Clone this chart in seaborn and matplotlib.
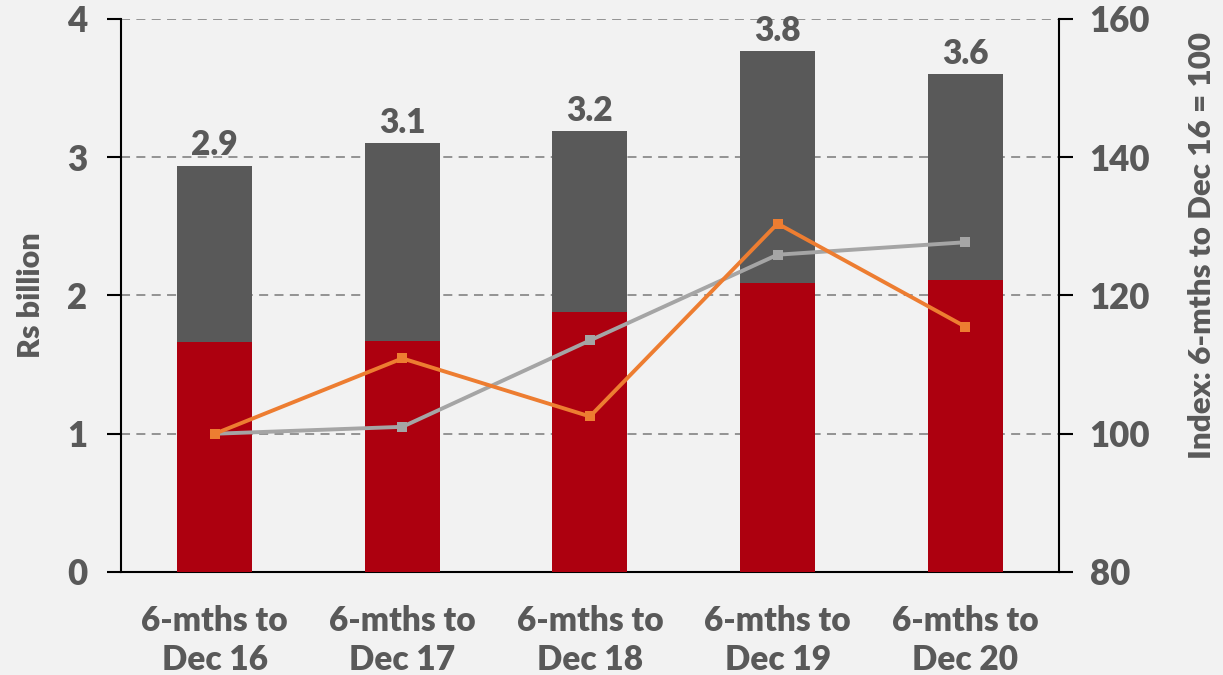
import numpy as np
import pandas as pd
import matplotlib
matplotlib.use("Agg")
import matplotlib.pyplot as plt
import seaborn as sns

# data
periods = ["6-mths to\nDec 16", "6-mths to\nDec 17", "6-mths to\nDec 18",
           "6-mths to\nDec 19", "6-mths to\nDec 20"]
total = [2.94, 3.10, 3.19, 3.77, 3.60]
red_part = [1.66, 1.67, 1.88, 2.09, 2.11]
total_labels = ["2.9", "3.1", "3.2", "3.8", "3.6"]
orange_idx = [100.0, 110.9, 102.5, 130.4, 115.5]
grey_idx = [100.0, 101.0, 113.5, 125.9, 127.7]

bg = "#f2f2f2"
txt = "#595959"

sns.set_theme(style="white")
plt.rcParams["font.family"] = ["Lato", "DejaVu Sans"]
plt.rcParams["font.weight"] = "bold"

fig = plt.figure(figsize=(12.23, 6.75), dpi=100, facecolor=bg)
ax = fig.add_axes([0.0989, 0.1526, 0.767, 0.8193])
ax.set_facecolor(bg)

df = pd.DataFrame({"period": periods, "total": total, "red": red_part})
sns.barplot(data=df, x="period", y="total", color="#595959", width=0.4,
            saturation=1, ax=ax, zorder=2, linewidth=0, edgecolor="none")
sns.barplot(data=df, x="period", y="red", color="#ad000f", width=0.4,
            saturation=1, ax=ax, zorder=3, linewidth=0, edgecolor="none")
ax.bar_label(ax.containers[0], labels=total_labels, padding=3,
             fontsize=24, fontweight="heavy", color=txt)

ax.set_xlim(-0.5, 4.5)
ax.set_ylim(0, 4)
ax.set_yticks([0, 1, 2, 3, 4])
ax.set_xlabel("")
ax.set_ylabel("Rs billion", fontsize=22, fontweight="heavy", color=txt, labelpad=16)
for y in [1, 2, 3, 4]:
    ax.axhline(y, color="#8c8c8c", lw=1.3, ls=(0, (5, 3.5)), zorder=1)

ax.tick_params(axis="x", length=0, pad=24, labelsize=24, labelcolor=txt)
ax.set_xticks(np.arange(-0.5, 5, 1), minor=True)
ax.tick_params(axis="x", which="minor", length=9, width=1.5, color="black", direction="out")
ax.tick_params(axis="y", length=10, width=1.5, color="black", direction="out",
               pad=14, labelsize=25, labelcolor=txt)
for lab in ax.get_xticklabels():
    lab.set_linespacing(1.25)
    lab.set_fontweight("heavy")
for lab in ax.get_yticklabels():
    lab.set_fontweight("heavy")

for s in ["top", "right"]:
    ax.spines[s].set_visible(False)
ax.spines["left"].set_color("black")
ax.spines["left"].set_linewidth(1.5)
ax.spines["bottom"].set_color("black")
ax.spines["bottom"].set_linewidth(1.5)

ax2 = ax.twinx()
xpos = np.arange(len(periods))
sns.lineplot(x=xpos, y=orange_idx, ax=ax2, color="#ed7d31", lw=2.8,
             marker="s", markersize=7, markeredgewidth=0, zorder=5)
sns.lineplot(x=xpos, y=grey_idx, ax=ax2, color="#a5a5a5", lw=2.8,
             marker="s", markersize=7, markeredgewidth=0, zorder=4)
ax2.set_ylim(80, 160)
ax2.set_yticks([80, 100, 120, 140, 160])
ax2.tick_params(axis="y", length=10, width=1.5, color="black", direction="out",
                pad=12, labelsize=25, labelcolor=txt)
for lab in ax2.get_yticklabels():
    lab.set_fontweight("heavy")
ax2.set_ylabel("Index: 6-mths to Dec 16 = 100", fontsize=22.5, fontweight="heavy",
               color=txt)
ax2.yaxis.set_label_coords(1.1525, 0.59)
ax2.yaxis.label.set_verticalalignment("center")
for s in ["top", "left", "bottom"]:
    ax2.spines[s].set_visible(False)
ax2.spines["right"].set_color("black")
ax2.spines["right"].set_linewidth(1.5)
ax.set_xlim(-0.5, 4.5)

fig.savefig("out.png", dpi=100, facecolor=bg)
